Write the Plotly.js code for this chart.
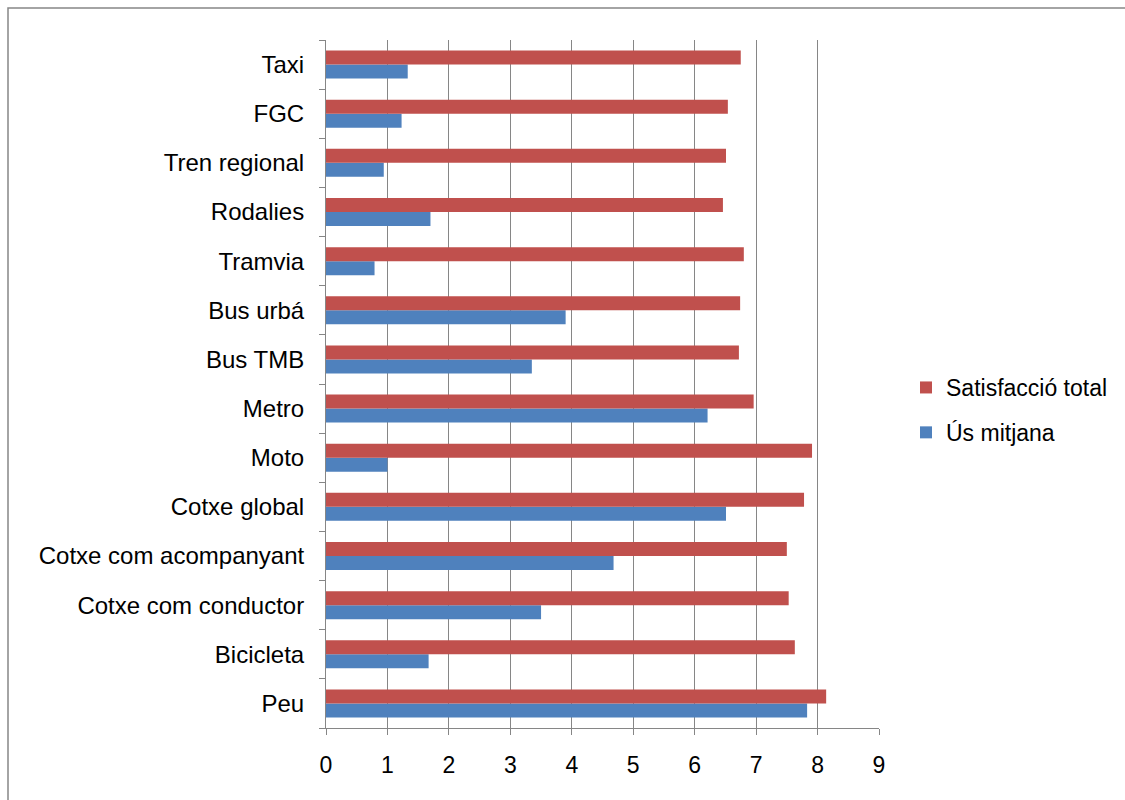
<!DOCTYPE html>
<html>
<head>
<meta charset="utf-8">
<script src="https://cdn.plot.ly/plotly-3.0.1.min.js"></script>
<style>html,body{margin:0;padding:0;background:#fff;}#chart{width:1125px;height:800px;}</style>
</head>
<body>
<div id="chart"></div>
<script>
const categories = ['Peu','Bicicleta','Cotxe com conductor','Cotxe com acompanyant','Cotxe global','Moto','Metro','Bus TMB','Bus urbá','Tramvia','Rodalies','Tren regional','FGC','Taxi'];
const satisfaccioTotal = [8.14, 7.63, 7.53, 7.50, 7.78, 7.91, 6.96, 6.72, 6.74, 6.80, 6.46, 6.51, 6.54, 6.75];
const usMitjana = [7.83, 1.67, 3.50, 4.68, 6.51, 1.00, 6.21, 3.35, 3.90, 0.79, 1.70, 0.94, 1.23, 1.33];
const xTicks = [0,1,2,3,4,5,6,7,8,9];

const L = 326, R = 879, T = 40, B = 728, W = 1125, H = 800;
const pw = R - L, ph = B - T;

const traces = [
  {type:'bar', orientation:'h', name:'Ús mitjana', y:categories, x:usMitjana,
   marker:{color:'#4F81BD'}, legendgroup:'b', legendrank:2, hoverinfo:'x+y'},
  {type:'bar', orientation:'h', name:'Satisfacció total', y:categories, x:satisfaccioTotal,
   marker:{color:'#C0504D'}, legendgroup:'a', legendrank:1, hoverinfo:'x+y'}
];

const layout = {
  width:W, height:H,
  margin:{l:L, r:W-R, t:T, b:H-B, pad:0, autoexpand:false},
  paper_bgcolor:'#fff', plot_bgcolor:'#fff',
  font:{family:'Liberation Sans, Arial, sans-serif', color:'#000', size:24},
  barmode:'group', bargap:0.43, bargroupgap:0,
  xaxis:{range:[0,9], tickvals:xTicks, ticktext:xTicks.map(String), showgrid:true, gridcolor:'#868686', gridwidth:1,
         zeroline:false, showline:true, linecolor:'#868686', linewidth:1, ticks:'outside', ticklen:6, tickcolor:'#868686',
         tickfont:{size:23}, ticklabelstandoff:10, fixedrange:true, automargin:false},
  yaxis:{type:'category', categoryorder:'array', categoryarray:categories, showgrid:false, zeroline:false,
         showline:true, linecolor:'#868686', linewidth:1, ticks:'outside', tickson:'boundaries', ticklen:6,
         tickcolor:'#868686', tickfont:{size:24}, ticklabelstandoff:16, fixedrange:true, automargin:false},
  showlegend:true,
  legend:{x:(906-L)/pw, y:(B-410)/ph, xanchor:'left', yanchor:'middle', traceorder:'grouped',
          tracegroupgap:12, font:{size:23}, bgcolor:'rgba(0,0,0,0)', itemwidth:30},
  shapes:[{type:'rect', xref:'paper', yref:'paper', x0:(8-L)/pw, x1:(1135-L)/pw, y0:(B-810)/ph, y1:(B-8)/ph,
           line:{color:'#868686', width:1.5}, fillcolor:'rgba(0,0,0,0)'}]
};

Plotly.newPlot('chart', traces, layout, {displayModeBar:false, staticPlot:true});
</script>
</body>
</html>
